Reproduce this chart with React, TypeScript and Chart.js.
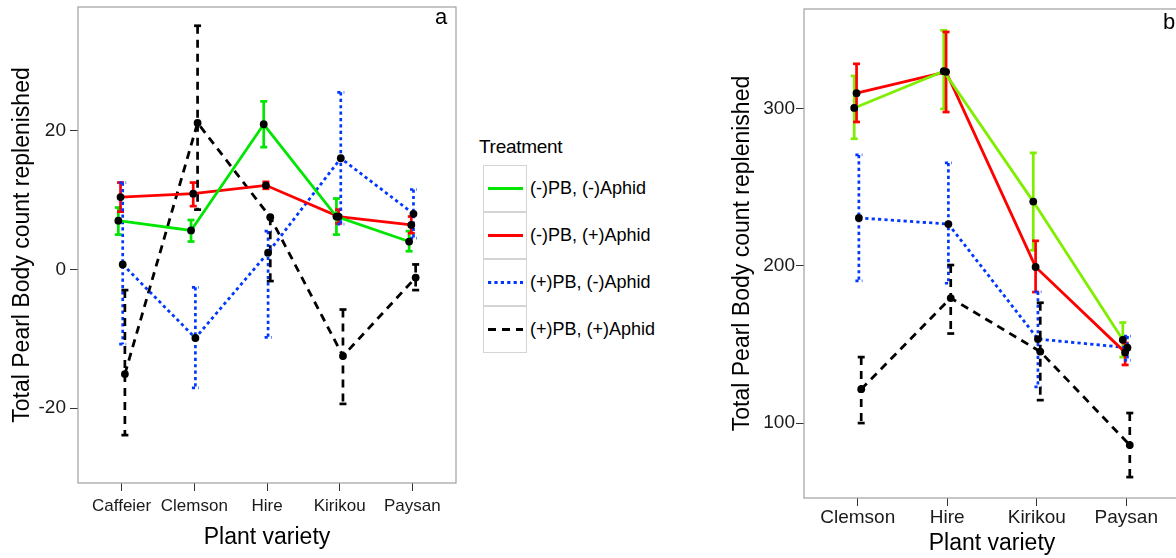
import React, { useEffect, useRef } from 'react';
import { Chart, registerables } from 'chart.js';

Chart.register(...registerables);

const FONT = '"Liberation Sans", Arial, Helvetica, sans-serif';

const seriesLabels = ['(-)PB, (-)Aphid', '(-)PB, (+)Aphid', '(+)PB, (-)Aphid', '(+)PB, (+)Aphid'];

// ---------- Panel a ----------
const categoriesA = ['Caffeier', 'Clemson', 'Hire', 'Kirikou', 'Paysan'];
const yTicksA = [-20, 0, 20];

const aNegNegMean = [7.0, 5.6, 20.9, 7.6, 4.0];
const aNegNegHi = [8.9, 7.1, 24.2, 10.2, 5.5];
const aNegNegLo = [5.0, 4.0, 17.6, 5.0, 2.6];

const aNegPosMean = [10.4, 10.9, 12.1, 7.6, 6.4];
const aNegPosHi = [12.5, 12.5, 12.6, 8.6, 7.6];
const aNegPosLo = [8.3, 9.1, 11.6, 6.6, 5.2];

const aPosNegMean = [0.7, -9.9, 2.4, 16.0, 8.0];
const aPosNegHi = [12.5, -2.6, 5.5, 25.5, 11.5];
const aPosNegLo = [-10.8, -17.1, -9.8, 6.5, 4.5];

const aPosPosMean = [-15.1, 21.1, 7.5, -12.5, -1.2];
const aPosPosHi = [-3.0, 35.1, 7.5, -5.8, 0.7];
const aPosPosLo = [-23.9, 8.6, -1.7, -19.4, -3.0];

// ---------- Panel b ----------
const categoriesB = ['Clemson', 'Hire', 'Kirikou', 'Paysan'];
const yTicksB = [100, 200, 300];

const bNegNegMean = [300.6, 324.0, 241.0, 153.0];
const bNegNegHi = [321.0, 350.0, 272.0, 164.0];
const bNegNegLo = [281.0, 300.0, 210.0, 142.0];

const bNegPosMean = [310.0, 323.6, 199.4, 145.0];
const bNegPosHi = [328.7, 349.0, 216.0, 151.0];
const bNegPosLo = [291.7, 298.0, 183.4, 137.0];

const bPosNegMean = [230.6, 226.7, 153.5, 148.0];
const bPosNegHi = [270.7, 265.6, 183.6, 155.4];
const bPosNegLo = [190.5, 189.0, 123.0, 140.0];

const bPosPosMean = [121.6, 179.6, 145.5, 86.0];
const bPosPosHi = [142.0, 200.6, 176.6, 106.4];
const bPosPosLo = [100.0, 157.0, 114.6, 65.6];

// ---------- Styles ----------
const colorsA = ['#00E600', '#FF0000', '#0038FF', '#000000'];
const colorsB = ['#7FEE00', '#FF0000', '#0038FF', '#000000'];
const dashes: number[][] = [[], [], [3.2, 3.2], [8, 6]];

type Panel = {
  categories: string[];
  means: number[][];
  his: number[][];
  los: number[][];
  colors: string[];
  yTicks: number[];
  yMin: number;
  yMax: number;
  dodge: number;
  padTop: number;
  padRight: number;
  yWidth: number;
  xHeight: number;
  xTickFont: number;
  yTickFont: number;
  yTickPad: number;
  xTickPad: number;
  xTitlePad: number;
  yTitlePad: number;
};

function buildConfig(p: Panel): any {
  const lineSets = p.means.map((m, s) => ({
    label: seriesLabels[s],
    data: m.map((v, i) => ({ x: i + (s - 1.5) * p.dodge, y: v })),
    borderColor: p.colors[s],
    backgroundColor: p.colors[s],
    borderWidth: 2.8,
    borderDash: dashes[s],
    borderCapStyle: 'butt',
    pointRadius: 0,
    fill: false,
    tension: 0,
    order: 2,
  }));
  const pointSets = p.means.map((m, s) => ({
    label: seriesLabels[s] + ' mean',
    data: m.map((v, i) => ({ x: i + (s - 1.5) * p.dodge, y: v })),
    showLine: false,
    pointRadius: 3.9,
    pointBackgroundColor: '#000',
    pointBorderColor: '#000',
    pointBorderWidth: 0,
    borderColor: '#000',
    order: 1,
  }));

  const errPlugin = {
    id: 'errorBars',
    beforeDatasetsDraw(chart: any) {
      const { ctx } = chart;
      const xs = chart.scales.x;
      const ys = chart.scales.y;
      ctx.save();
      p.means.forEach((m, s) => {
        m.forEach((v, i) => {
          const px = xs.getPixelForValue(i + (s - 1.5) * p.dodge);
          const yh = ys.getPixelForValue(p.his[s][i]);
          const yl = ys.getPixelForValue(p.los[s][i]);
          ctx.strokeStyle = p.colors[s];
          ctx.lineWidth = 2.7;
          ctx.lineCap = 'butt';
          ctx.setLineDash(dashes[s]);
          ctx.beginPath();
          ctx.moveTo(px, yh);
          ctx.lineTo(px, yl);
          ctx.stroke();
          ctx.setLineDash(s === 2 ? [3.2, 3.2] : []);
          [yh, yl].forEach((yy) => {
            ctx.beginPath();
            ctx.moveTo(px - 3.5, yy);
            ctx.lineTo(px + 3.5, yy);
            ctx.stroke();
          });
        });
      });
      ctx.restore();
    },
    afterDraw(chart: any) {
      const { ctx, chartArea } = chart;
      ctx.save();
      ctx.strokeStyle = '#a0a0a0';
      ctx.lineWidth = 1.2;
      ctx.strokeRect(chartArea.left, chartArea.top, chartArea.right - chartArea.left, chartArea.bottom - chartArea.top);
      ctx.restore();
    },
  };

  const n = p.categories.length;
  return {
    type: 'line',
    data: { datasets: [...lineSets, ...pointSets] },
    plugins: [errPlugin],
    options: {
      animation: false,
      responsive: false,
      maintainAspectRatio: false,
      layout: { padding: { top: p.padTop, right: p.padRight, left: 0, bottom: 0 } },
      plugins: { legend: { display: false }, tooltip: { enabled: false } },
      scales: {
        x: {
          type: 'linear',
          min: -0.6,
          max: n - 1 + 0.6,
          afterBuildTicks: (sc: any) => {
            sc.ticks = p.categories.map((_, i) => ({ value: i }));
          },
          afterFit: (sc: any) => {
            sc.height = p.xHeight;
            sc.paddingLeft = 0;
            sc.paddingRight = 0;
            sc.paddingTop = 0;
            sc.paddingBottom = 0;
          },
          ticks: {
            autoSkip: false,
            maxRotation: 0,
            padding: p.xTickPad,
            color: '#1a1a1a',
            font: { family: FONT, size: p.xTickFont },
            callback: (v: any) => p.categories[v] ?? '',
          },
          grid: { display: true, drawOnChartArea: false, drawTicks: true, tickLength: 8, color: '#333', lineWidth: 1 },
          border: { display: false },
          title: {
            display: true,
            text: 'Plant variety',
            color: '#000',
            font: { family: FONT, size: 23 },
            padding: { top: 0, bottom: p.xTitlePad },
          },
        },
        y: {
          type: 'linear',
          min: p.yMin,
          max: p.yMax,
          afterBuildTicks: (sc: any) => {
            sc.ticks = p.yTicks.map((v) => ({ value: v }));
          },
          afterFit: (sc: any) => {
            sc.width = p.yWidth;
            sc.paddingTop = 0;
            sc.paddingBottom = 0;
            sc.paddingLeft = 0;
            sc.paddingRight = 0;
          },
          ticks: {
            padding: p.yTickPad,
            color: '#1a1a1a',
            font: { family: FONT, size: p.yTickFont },
            callback: (v: any) => String(v),
          },
          grid: { display: true, drawOnChartArea: false, drawTicks: true, tickLength: 8, color: '#333', lineWidth: 1 },
          border: { display: false },
          title: {
            display: true,
            text: 'Total Pearl Body count replenished',
            color: '#000',
            font: { family: FONT, size: 23 },
            padding: { top: p.yTitlePad, bottom: 0 },
          },
        },
      },
    },
  };
}

const panelA: Panel = {
  categories: categoriesA,
  means: [aNegNegMean, aNegPosMean, aPosNegMean, aPosPosMean],
  his: [aNegNegHi, aNegPosHi, aPosNegHi, aPosPosHi],
  los: [aNegNegLo, aNegPosLo, aPosNegLo, aPosPosLo],
  colors: colorsA,
  yTicks: yTicksA,
  yMin: -30.8,
  yMax: 37.8,
  dodge: 0.03,
  padTop: 7,
  padRight: 9,
  yWidth: 78,
  xHeight: 75,
  xTickFont: 17,
  yTickFont: 19,
  yTickPad: 4,
  xTickPad: 5,
  xTitlePad: 7,
  yTitlePad: 9,
};

const panelB: Panel = {
  categories: categoriesB,
  means: [bNegNegMean, bNegPosMean, bPosNegMean, bPosPosMean],
  his: [bNegNegHi, bNegPosHi, bPosNegHi, bPosPosHi],
  los: [bNegNegLo, bNegPosLo, bPosNegLo, bPosPosLo],
  colors: colorsB,
  yTicks: yTicksB,
  yMin: 52.3,
  yMax: 363.6,
  dodge: 0.026,
  padTop: 9,
  padRight: 10,
  yWidth: 84,
  xHeight: 60,
  xTickFont: 19,
  yTickFont: 19,
  yTickPad: 1,
  xTickPad: 0,
  xTitlePad: 1,
  yTitlePad: 9,
};

function ChartCanvas({ panel, left, width }: { panel: Panel; left: number; width: number }) {
  const ref = useRef<HTMLCanvasElement | null>(null);
  useEffect(() => {
    if (!ref.current) return;
    const chart = new Chart(ref.current, buildConfig(panel));
    return () => chart.destroy();
  }, [panel]);
  return (
    <canvas
      ref={ref}
      width={width}
      height={558}
      style={{ position: 'absolute', left, top: 0, width, height: 558 }}
    />
  );
}

function Legend() {
  const cellTop = 165;
  const cellH = 47;
  return (
    <div style={{ position: 'absolute', left: 0, top: 0 }}>
      <div
        style={{
          position: 'absolute',
          left: 479,
          top: 134,
          fontFamily: FONT,
          fontSize: 19,
          letterSpacing: -0.3,
          lineHeight: '26px',
          color: '#000',
          whiteSpace: 'nowrap',
        }}
      >
        Treatment
      </div>
      {seriesLabels.map((lab, s) => (
        <React.Fragment key={lab}>
          <div
            style={{
              position: 'absolute',
              left: 483,
              top: cellTop + s * cellH,
              width: 44,
              height: cellH,
              boxSizing: 'border-box',
              border: '1px solid #d4d4d4',
              background: '#fff',
            }}
          >
            <svg width={42} height={45} style={{ position: 'absolute', left: 0, top: 0 }}>
              <line
                x1={4}
                x2={39}
                y1={22.5}
                y2={22.5}
                stroke={colorsA[s]}
                strokeWidth={2.8}
                strokeDasharray={dashes[s].length ? dashes[s].join(' ') : undefined}
              />
            </svg>
          </div>
          <div
            style={{
              position: 'absolute',
              left: 530,
              top: cellTop + s * cellH,
              height: cellH,
              lineHeight: cellH + 'px',
              fontFamily: FONT,
              fontSize: 18,
              color: '#000',
              whiteSpace: 'nowrap',
            }}
          >
            {lab}
          </div>
        </React.Fragment>
      ))}
    </div>
  );
}

export default function App() {
  return (
    <div
      style={{
        position: 'fixed',
        left: 0,
        top: 0,
        width: 1176,
        height: 558,
        overflow: 'hidden',
        background: '#fff',
      }}
    >
      <ChartCanvas panel={panelA} left={0} width={465} />
      <ChartCanvas panel={panelB} left={720} width={470} />
      <Legend />
      <div style={{ position: 'absolute', left: 435, top: 6, fontFamily: FONT, fontSize: 22, lineHeight: '22px', color: '#000' }}>a</div>
      <div style={{ position: 'absolute', left: 1163, top: 11, fontFamily: FONT, fontSize: 22, lineHeight: '22px', color: '#000' }}>b</div>
    </div>
  );
}
